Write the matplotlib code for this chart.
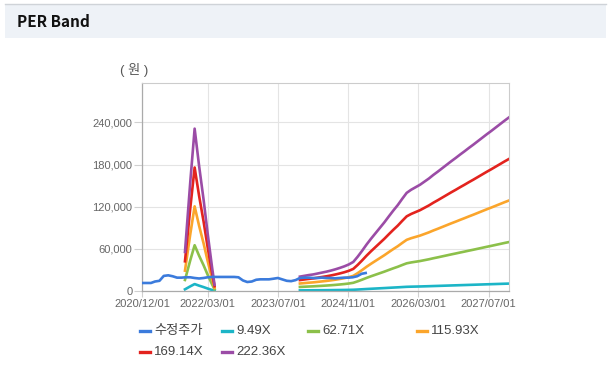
import numpy as np
import pandas as pd
import matplotlib
matplotlib.use('Agg')
import matplotlib.pyplot as plt
import matplotlib.dates as mdates
from matplotlib.lines import Line2D
from matplotlib.patches import Rectangle
from matplotlib.ticker import FuncFormatter

# --- fonts ---
plt.rcParams['font.family'] = ['Liberation Sans', 'Noto Sans CJK KR', 'DejaVu Sans']

# --- data ---
# adjusted price, monthly from 2020-12
price = [11400, 11400, 11400, 13500, 14500, 21500, 22300, 21000, 19000, 19000,
         19500, 19500, 18500, 17800, 18500, 19500, 20000, 20000, 20000, 20000,
         20000, 20000, 19500, 15000, 12800, 13500, 16000, 16600, 16600, 16600,
         17500, 18500, 16500, 14500, 14000, 15500, 18500, 19000, 19000, 18500,
         18500, 19000, 18500, 18500, 18000, 18500, 19000, 19000, 19500, 21000,
         24500, 25600]
price_dates = pd.date_range('2020-12-01', periods=len(price), freq='MS')

# EPS behind the bands: first (short) block and forward block
eps_a_dates = pd.to_datetime(['2021-09-25', '2021-11-01', '2021-12-01', '2022-01-01',
                              '2022-02-01', '2022-03-01', '2022-04-01', '2022-04-18'])
eps_a = [250, 700, 1039, 800, 585, 370, 150, 40]

eps_b = [92, 97, 102, 106, 112, 118, 124, 131, 139, 148,
         158, 170, 186, 220, 258, 298, 335, 370, 405, 440,
         478, 515, 550, 590, 628, 648, 664, 680, 700, 720,
         743, 764, 786, 808, 830, 851, 873, 894, 916, 937,
         959, 981, 1003, 1024, 1046, 1068, 1090, 1111]
eps_b_dates = pd.date_range('2023-12-01', '2027-11-20', periods=len(eps_b))

multiples = [9.49, 62.71, 115.93, 169.14, 222.36]
band_labels = ['9.49X', '62.71X', '115.93X', '169.14X', '222.36X']
band_colors = ['#1cb5c7', '#8cc04a', '#fba52b', '#e3231e', '#9b4ca6']
price_label = '수정주가'
price_color = '#3b7bdc'

tick_dates = pd.to_datetime(['2020-12-01', '2022-03-01', '2023-07-01',
                             '2024-11-01', '2026-03-01', '2027-07-01'])
y_ticks = [0, 60000, 120000, 180000, 240000]

# --- figure ---
fig = plt.figure(figsize=(6.12, 3.80), dpi=100)
fig.patch.set_facecolor('white')

# header band
fig.patches.append(Rectangle((5 / 612, 1 - 38 / 380), 601 / 612, 34 / 380,
                             transform=fig.transFigure, facecolor='#eef2f7',
                             edgecolor='none', zorder=0))
fig.add_artist(Line2D([5 / 612, 606 / 612], [1 - 4 / 380, 1 - 4 / 380],
                      transform=fig.transFigure, color='#cfd3d8', lw=1))
fig.text(17 / 612, 1 - 22 / 380, 'PER Band', fontsize=11, fontweight='bold',
         family=['Noto Sans CJK KR', 'DejaVu Sans'], va='center', ha='left',
         color='#111111')

ax = fig.add_axes([142 / 612, 1 - 291 / 380, 367 / 612, 208 / 380])

lw = 1.9
ax.plot(price_dates, price, color=price_color, lw=lw, zorder=3)
for m, c in zip(multiples, band_colors):
    ax.plot(eps_a_dates, np.array(eps_a) * m, color=c, lw=lw, zorder=2)
    ax.plot(eps_b_dates, np.array(eps_b) * m, color=c, lw=lw, zorder=2)

ax.set_xlim(pd.Timestamp('2020-12-01'), pd.Timestamp('2027-11-20'))
ax.set_ylim(0, 296000)

ax.set_xticks(tick_dates)
ax.xaxis.set_major_formatter(mdates.DateFormatter('%Y/%m/%d'))
ax.set_yticks(y_ticks)
ax.yaxis.set_major_formatter(FuncFormatter(lambda v, p: f'{int(v):,}'))

ax.grid(True, color='#e4e4e4', lw=0.8, zorder=0)
ax.set_axisbelow(True)
ax.tick_params(axis='both', labelsize=8, colors='#666666', length=6, width=0.8,
               color='#d0d0d0')
ax.tick_params(axis='y', pad=1)
ax.tick_params(axis='x', pad=2, length=4)
for s in ['top', 'right']:
    ax.spines[s].set_color('#cccccc')
    ax.spines[s].set_linewidth(0.8)
for s in ['left', 'bottom']:
    ax.spines[s].set_color('#aaaaaa')
    ax.spines[s].set_linewidth(0.9)

fig.text(120 / 612, 1 - 70 / 380, '( 원 )', fontsize=9.5, color='#555555',
         va='center', ha='left')

# legend, laid out like the reference
leg_labels = [price_label] + band_labels
leg_colors = [price_color] + band_colors
leg_x = [140, 222, 308, 417, 140, 222]
leg_y = [331, 331, 331, 331, 352, 352]
for lab, c, x, y in zip(leg_labels, leg_colors, leg_x, leg_y):
    fig.add_artist(Line2D([x / 612, (x + 10) / 612], [1 - y / 380, 1 - y / 380],
                          transform=fig.transFigure, color=c, lw=2.4))
    fig.text((x + 14) / 612, 1 - y / 380, lab, fontsize=9.5, color='#444444',
             va='center', ha='left')

fig.savefig('out.png', dpi=100)
